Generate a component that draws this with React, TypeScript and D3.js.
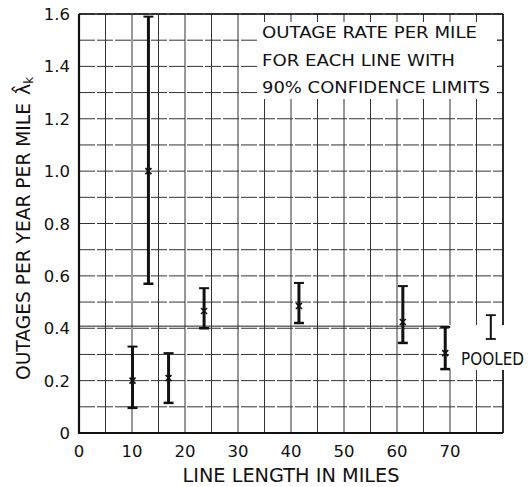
import React from "react";
import * as d3 from "d3";

const lineLength = [10.1, 13.1, 16.9, 23.6, 41.5, 61.1, 69.1];
const rateEstimate = [0.2, 1.0, 0.21, 0.466, 0.485, 0.424, 0.305];
const lowerLimit = [0.096, 0.57, 0.115, 0.4, 0.42, 0.344, 0.244];
const upperLimit = [0.33, 1.59, 0.305, 0.553, 0.573, 0.561, 0.405];

const pooledX = [77.7];
const pooledEstimate = [0.408];
const pooledLower = [0.359];
const pooledUpper = [0.45];

const xTicks = [0, 10, 20, 30, 40, 50, 60, 70];
const yTicks = [0, 0.2, 0.4, 0.6, 0.8, 1.0, 1.2, 1.4, 1.6];
const yTickLabels = ["0", "0.2", "0.4", "0.6", "0.8", "1.0", "1.2", "1.4", "1.6"];
const xGrid = d3.range(0, 81, 5);
const yGrid = d3.range(0, 17).map((i) => i / 10);

const titleLines = ["OUTAGE RATE PER MILE", "FOR EACH LINE WITH", "90% CONFIDENCE LIMITS"];

const W = 529;
const H = 487;
const FONT = "'DejaVu Sans', sans-serif";

export default function App() {
  const x = d3.scaleLinear().domain([0, 80]).range([79, 503]);
  const y = d3.scaleLinear().domain([0, 1.6]).range([433, 14]);
  const [x0, x1] = x.range();
  const [y0, y1] = y.range();
  const ink = "#111";

  const bars = lineLength.map((lx, i) => ({
    x: lx,
    est: rateEstimate[i],
    lo: lowerLimit[i],
    hi: upperLimit[i],
  }));

  const cap = 5;

  return (
    <svg
      width={W}
      height={H}
      style={{ position: "absolute", left: 0, top: 0, background: "#fff" }}
    >
      <rect x={0} y={0} width={W} height={H} fill="#fff" />
      {/* grid */}
      {xGrid.map((g) => (
        <line key={"vx" + g} x1={x(g)} x2={x(g)} y1={y0} y2={y1} stroke="#333" strokeWidth={1} />
      ))}
      {yGrid.map((g) => (
        <line key={"hy" + g} x1={x0} x2={x1} y1={y(g)} y2={y(g)} stroke="#333" strokeWidth={1} strokeDasharray="16,2" />
      ))}
      {/* pooled line */}
      <line x1={x0} x2={x1} y1={y(pooledEstimate[0])} y2={y(pooledEstimate[0])} stroke="#222" strokeWidth={1} />

      {/* title box */}
      <rect x={259} y={22} width={238} height={77} fill="#fff" />
      {titleLines.map((t, i) => (
        <text
          key={t}
          x={262}
          y={38 + i * 27.5}
          fontFamily={FONT}
          fontSize={15.5}
          fill={ink}
          textLength={[215, 193, 228][i]}
          lengthAdjust="spacingAndGlyphs"
        >
          {t}
        </text>
      ))}
      {/* stubs at right of title */}
      {[1.5, 1.4, 1.3].map((v) => (
        <line key={"st" + v} x1={x1 - 6} x2={x1} y1={y(v)} y2={y(v)} stroke="#333" strokeWidth={1} />
      ))}

      {/* frame */}
      <line x1={x0} x2={x0} y1={y0 + 1} y2={y1} stroke={ink} strokeWidth={2.2} />
      <line x1={x0} x2={x1} y1={y0} y2={y0} stroke={ink} strokeWidth={2.2} />
      <line x1={x0} x2={x1} y1={y1} y2={y1} stroke={ink} strokeWidth={1.6} />
      <line x1={x1} x2={x1} y1={y0} y2={y1} stroke={ink} strokeWidth={1.6} />

      {/* pooled label box */}
      <rect x={449} y={325} width={80} height={45} fill="#fff" />
      <text
        x={461}
        y={365}
        fontFamily={FONT}
        fontSize={17}
        fill={ink}
        textLength={63}
        lengthAdjust="spacingAndGlyphs"
      >
        POOLED
      </text>

      {/* error bars */}
      {bars.map((b, i) => (
        <g key={"b" + i} stroke={ink}>
          <line x1={x(b.x)} x2={x(b.x)} y1={y(b.lo)} y2={y(b.hi)} strokeWidth={3} />
          <line x1={x(b.x) - cap} x2={x(b.x) + cap} y1={y(b.hi)} y2={y(b.hi)} strokeWidth={2} />
          <line x1={x(b.x) - cap} x2={x(b.x) + cap} y1={y(b.lo)} y2={y(b.lo)} strokeWidth={2.5} />
          <line x1={x(b.x) - 3} x2={x(b.x) + 3} y1={y(b.est) - 3} y2={y(b.est) + 3} strokeWidth={1.6} />
          <line x1={x(b.x) - 3} x2={x(b.x) + 3} y1={y(b.est) + 3} y2={y(b.est) - 3} strokeWidth={1.6} />
        </g>
      ))}
      {pooledX.map((px, i) => (
        <g key={"p" + i} stroke={ink}>
          <line x1={x(px)} x2={x(px)} y1={y(pooledLower[i])} y2={y(pooledUpper[i])} strokeWidth={2} />
          <line x1={x(px) - cap} x2={x(px) + cap} y1={y(pooledUpper[i])} y2={y(pooledUpper[i])} strokeWidth={1.8} />
          <line x1={x(px) - cap} x2={x(px) + cap} y1={y(pooledLower[i])} y2={y(pooledLower[i])} strokeWidth={1.8} />
        </g>
      ))}

      {/* y tick labels */}
      {yTicks.map((v, i) => (
        <text
          key={"yt" + v}
          x={70}
          y={y(v) + 6}
          textAnchor="end"
          fontFamily={FONT}
          fontSize={16.5}
          fill={ink}
        >
          {yTickLabels[i]}
        </text>
      ))}
      {/* x tick labels */}
      {xTicks.map((v) => (
        <text
          key={"xt" + v}
          x={x(v)}
          y={457}
          textAnchor="middle"
          fontFamily={FONT}
          fontSize={16.5}
          fill={ink}
        >
          {v}
        </text>
      ))}
      {/* axis titles */}
      <text
        x={291}
        y={482}
        textAnchor="middle"
        fontFamily={FONT}
        fontSize={19}
        fill={ink}
        textLength={217}
        lengthAdjust="spacingAndGlyphs"
      >
        LINE LENGTH IN MILES
      </text>
      <text
        transform="translate(30,380) rotate(-90)"
        fontFamily={FONT}
        fontSize={19}
        fill={ink}
      >
        <tspan textLength={277} lengthAdjust="spacingAndGlyphs">OUTAGES PER YEAR PER MILE</tspan>
        <tspan dx={8}>λ̂</tspan>
        <tspan fontSize={12} dy={3}>k</tspan>
      </text>
    </svg>
  );
}
